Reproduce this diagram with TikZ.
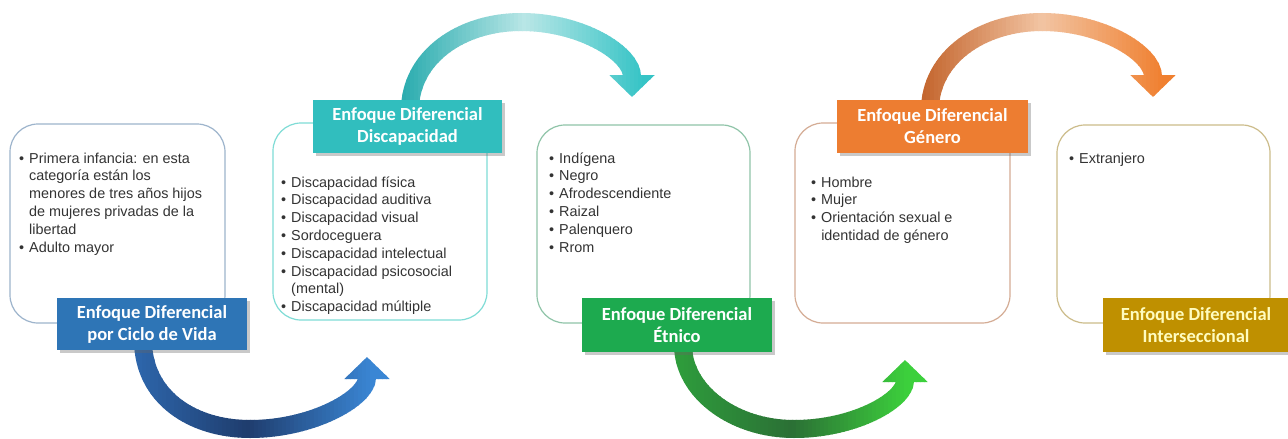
\documentclass[tikz,border=0pt]{standalone}
\usepackage{fontspec}
\setmainfont{Liberation Sans}
\newfontfamily\lblfont{Carlito}
\usetikzlibrary{arrows.meta,shadows}
\definecolor{txt}{HTML}{333333}
\definecolor{cBlue}{HTML}{2E75B6}
\definecolor{cTeal}{HTML}{31BEBE}
\definecolor{cGreen}{HTML}{1DAA4F}
\definecolor{cOrange}{HTML}{ED7D31}
\definecolor{cGold}{HTML}{BF9000}
\definecolor{bBlue}{HTML}{9DB4CC}
\definecolor{bTeal}{HTML}{7FDCD6}
\definecolor{bGreen}{HTML}{8FC4A8}
\definecolor{bOrange}{HTML}{D4AC94}
\definecolor{bGold}{HTML}{CCBC8A}
% arrow gradient colours: left, middle, right
\definecolor{aBL}{HTML}{2E68AE}\definecolor{aBM}{HTML}{1F3D6E}\definecolor{aBR}{HTML}{3A86D4}
\definecolor{aTL}{HTML}{26AAAD}\definecolor{aTM}{HTML}{B8E6E6}\definecolor{aTR}{HTML}{36C4C6}
\definecolor{aGL}{HTML}{2E9E3C}\definecolor{aGM}{HTML}{2B7035}\definecolor{aGR}{HTML}{3CD03C}
\definecolor{aOL}{HTML}{C2622A}\definecolor{aOM}{HTML}{F2C4A2}\definecolor{aOR}{HTML}{F08030}
\newcommand{\bitems}[1]{\begin{tabular}[t]{@{}l@{\hspace{5pt}}l@{}}#1\end{tabular}}
% #1 x start, #2 x of middle colour, #3 x end, #4/#5/#6 colours, #7 path
\newcommand\gradflow[7]{%
  \foreach \i in {0,...,72}{%
    \pgfmathsetmacro\xx{#1+4*\i}%
    \pgfmathtruncatemacro\side{\xx<#2 ? 0 : 1}%
    \ifnum\side=0
      \pgfmathtruncatemacro\pp{max(0,min(100,(#2-\xx)/(#2-#1)*100))}%
      \colorlet{cc}{#4!\pp!#5}%
    \else
      \pgfmathtruncatemacro\pp{max(0,min(100,(\xx-#2)/(#3-#2)*100))}%
      \colorlet{cc}{#6!\pp!#5}%
    \fi
    \begin{scope}
      \clip (\xx,0) rectangle (\xx+4.6,439);
      \draw[flow, cc] #7;
    \end{scope}
  }}
\begin{document}
\begin{tikzpicture}[x=1pt,y=-1pt,
  box/.style={draw, line width=1.2pt, rounded corners=28pt, fill=white, inner sep=0pt},
  lbl/.style={inner sep=0pt, text=white, font=\lblfont\bfseries\fontsize{18.5}{22}\selectfont, align=center,
    drop shadow={shadow xshift=2.5pt, shadow yshift=-2.5pt, opacity=0.35, fill=black!60}},
  items/.style={anchor=base west, inner sep=0pt, text=txt, font=\fontsize{14.4}{17.8}\selectfont},
  flow/.style={line width=18pt, -{Triangle[width=44pt,length=22pt]}}]
\useasboundingbox (0,0) rectangle (1288,439);
\fill[white] (0,0) rectangle (1288,439);
% content boxes
\node[box, draw=bBlue, minimum width=215pt, minimum height=199pt] (b1) at (117.5,223.5) {};
\node[box, draw=bTeal, minimum width=214pt, minimum height=197pt] (b2) at (380,221.5) {};
\node[box, draw=bGreen, minimum width=213pt, minimum height=198pt] (b3) at (643.5,224) {};
\node[box, draw=bOrange, minimum width=215pt, minimum height=200pt] (b4) at (902.5,223) {};
\node[box, draw=bGold, minimum width=213pt, minimum height=198pt] (b5) at (1163.5,224) {};
% bullet texts
\node[items] (t1) at (19,163) {\bitems{• & Primera infancia: en esta\\ & categoría están los\\ & menores de tres años hijos\\ & de mujeres privadas de la\\ & libertad\\ • & Adulto mayor}};
\node[items] (t2) at (281,187) {\bitems{• & Discapacidad física\\ • & Discapacidad auditiva\\ • & Discapacidad visual\\ • & Sordoceguera\\ • & Discapacidad intelectual\\ • & Discapacidad psicosocial\\ & (mental)\\ • & Discapacidad múltiple}};
\node[items] (t3) at (549,163) {\bitems{• & Indígena\\ • & Negro\\ • & Afrodescendiente\\ • & Raizal\\ • & Palenquero\\ • & Rrom}};
\node[items] (t4) at (811,187) {\bitems{• & Hombre\\ • & Mujer\\ • & Orientación sexual e\\ & identidad de género}};
\node[items] (t5) at (1069,163) {\bitems{• & Extranjero}};
% arrows
\coordinate (s1) at (143,340); \coordinate (e1) at (367,357);
\coordinate (s2) at (410,110); \coordinate (e2) at (632,97);
\coordinate (s3) at (683,345); \coordinate (e3) at (905,360);
\coordinate (s4) at (930,110); \coordinate (e4) at (1153,97);
\gradflow{130}{245}{370}{aBL}{aBM}{aBR}{(s1) .. controls (143,396) and (191,429) .. (250,429) .. controls (313,429) and (367,398) .. (e1)}
\gradflow{398}{523}{640}{aTL}{aTM}{aTR}{(s2) .. controls (410,58) and (460,22) .. (521,22) .. controls (582,22) and (632,54) .. (e2)}
\gradflow{672}{790}{905}{aGL}{aGM}{aGR}{(s3) .. controls (683,391) and (733,429) .. (794,429) .. controls (855,429) and (905,400) .. (e3)}
\gradflow{918}{1040}{1160}{aOL}{aOM}{aOR}{(s4) .. controls (930,58) and (981,22) .. (1042,22) .. controls (1103,22) and (1153,54) .. (e4)}
% labels
\node[lbl, fill=cBlue, minimum width=190pt, minimum height=52pt] (l1) at (152,324) {Enfoque Diferencial\\por Ciclo de Vida};
\node[lbl, fill=cTeal, minimum width=189pt, minimum height=53pt] (l2) at (407.5,126.5) {Enfoque Diferencial\\Discapacidad};
\node[lbl, fill=cGreen, minimum width=190pt, minimum height=54pt] (l3) at (677,325) {Enfoque Diferencial\\Étnico};
\node[lbl, fill=cOrange, minimum width=191pt, minimum height=53pt] (l4) at (932.5,126.5) {Enfoque Diferencial\\Género};
\node[lbl, fill=cGold, text=yellow!25, minimum width=186pt, minimum height=54pt] (l5) at (1196,325) {Enfoque Diferencial\\Interseccional};
\end{tikzpicture}
\end{document}
